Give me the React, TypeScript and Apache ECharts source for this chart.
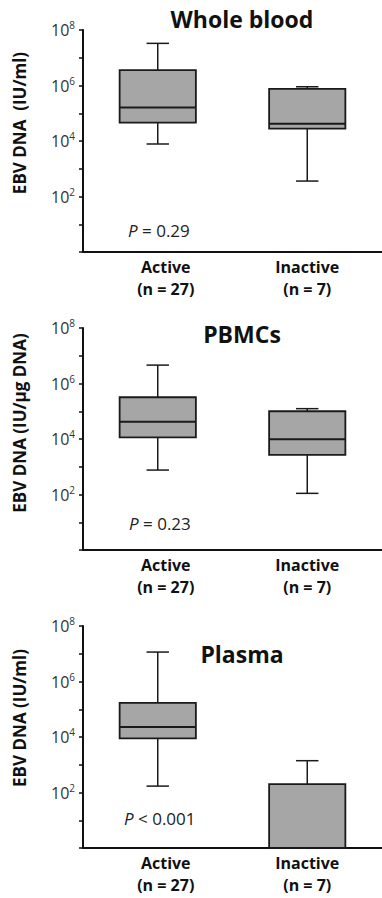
import React, { useEffect, useRef } from "react";
import * as echarts from "echarts";

const categories = ["Active\n(n = 27)", "Inactive\n(n = 7)"];
const panelTitles = ["Whole blood", "PBMCs", "Plasma"];
const yNames = ["EBV DNA  (IU/ml)", "EBV DNA (IU/\u00b5g DNA)", "EBV DNA (IU/ml)"];
const pSign = ["=", "=", "<"];
const pValues = ["0.29", "0.23", "0.001"];
// [min, Q1, median, Q3, max] per category
const wholeBlood = [
  [7.8e3, 4.6e4, 1.6e5, 3.6e6, 3.3e7],
  [3.6e2, 2.8e4, 4.2e4, 7.5e5, 9.0e5],
];
const pbmcs = [
  [7.6e2, 1.15e4, 4.2e4, 3.2e5, 4.6e6],
  [1.1e2, 2.7e3, 9.8e3, 1.0e5, 1.24e5],
];
const plasma = [
  [1.7e2, 8.9e3, 2.3e4, 1.7e5, 1.15e7],
  [1, 1, 1, 2.0e2, 1.4e3],
];
const panels = [wholeBlood, pbmcs, plasma];

const FONT = "'Open Sans', 'Noto Sans', sans-serif";
const gridTops = [30, 328, 626];
const gridH = 222;
const gridLeft = 83;
const titleY = [19, 334, 654];
const titleX = 242;
const pPos = [
  [128, 230],
  [129, 523],
  [124, 818],
];
const yNameY = [123, 423, 718];
const labelShift = [16, 0];

export default function App() {
  const ref = useRef<HTMLDivElement>(null);
  useEffect(() => {
    if (!ref.current) return;
    const chart = echarts.init(ref.current, null, { renderer: "svg" });

    const grids = gridTops.map((t) => ({
      left: gridLeft,
      top: t,
      right: 0,
      height: gridH,
      containLabel: false,
      outerBoundsMode: "none",
    }));

    const xAxes = panels.map((_, i) => ({
      type: "category",
      gridIndex: i,
      data: categories.map((c, k) => ({
        value: c,
        textStyle: { padding: [0, 0, 0, labelShift[k]] },
      })),
      axisLine: { show: true, lineStyle: { color: "#111", width: 2 } },
      axisTick: { show: false },
      axisLabel: {
        fontFamily: FONT,
        fontWeight: "bold",
        fontSize: 16,
        lineHeight: 22,
        color: "#111",
        margin: 4,
      },
      splitLine: { show: false },
    }));

    const yAxes = panels.map((_, i) => ({
      type: "log",
      logBase: 10,
      gridIndex: i,
      min: 1,
      max: 1e8,
      interval: 1,
      axisLine: { show: true, lineStyle: { color: "#111", width: 2 } },
      axisTick: { show: true, inside: false, length: 4, lineStyle: { color: "#111", width: 1.5 } },
      splitLine: { show: false },
      axisLabel: {
        margin: 8,
        fontFamily: FONT,
        color: "#333",
        fontSize: 16,
        formatter: (v: number) => {
          const e = Math.round(Math.log10(v));
          if (e <= 0 || e % 2 !== 0) return "";
          return "{b|10}{s|" + e + "}";
        },
        rich: {
          b: { fontFamily: FONT, fontSize: 16, color: "#333", lineHeight: 20 },
          s: { fontFamily: FONT, fontSize: 10, color: "#333", verticalAlign: "top", lineHeight: 12 },
        },
      },
    }));

    const series = panels.map((data, i) => ({
      type: "custom",
      xAxisIndex: i,
      yAxisIndex: i,
      clip: false,
      encode: { x: 0, y: [1, 2, 3, 4, 5] },
      data: data.map((d, k) => [k, ...d]),
      renderItem: (params: any, api: any) => {
        const x = api.value(0);
        const band = params.coordSys.width / categories.length;
        const boxW = band * 0.51;
        const capW = band * 0.15;
        const pMin = api.coord([x, api.value(1)]);
        const pQ1 = api.coord([x, api.value(2)]);
        const pMed = api.coord([x, api.value(3)]);
        const pQ3 = api.coord([x, api.value(4)]);
        const pMax = api.coord([x, api.value(5)]);
        const cx = pMed[0];
        const stroke = { stroke: "#1a1a1a", lineWidth: 1.5 };
        return {
          type: "group",
          children: [
            { type: "line", shape: { x1: cx, y1: pQ3[1], x2: cx, y2: pMax[1] }, style: stroke },
            { type: "line", shape: { x1: cx - capW / 2, y1: pMax[1], x2: cx + capW / 2, y2: pMax[1] }, style: stroke },
            { type: "line", shape: { x1: cx, y1: pQ1[1], x2: cx, y2: pMin[1] }, style: stroke },
            { type: "line", shape: { x1: cx - capW / 2, y1: pMin[1], x2: cx + capW / 2, y2: pMin[1] }, style: stroke },
            {
              type: "rect",
              shape: { x: cx - boxW / 2, y: pQ3[1], width: boxW, height: pQ1[1] - pQ3[1] },
              style: { fill: "#a6a6a6", stroke: "#1a1a1a", lineWidth: 1.8 },
            },
            {
              type: "line",
              shape: { x1: cx - boxW / 2, y1: pMed[1], x2: cx + boxW / 2, y2: pMed[1] },
              style: { stroke: "#1a1a1a", lineWidth: 2 },
            },
          ],
        };
      },
    }));

    const graphics: any[] = [];
    panelTitles.forEach((t, i) => {
      graphics.push({
        type: "text",
        x: titleX,
        y: titleY[i],
        style: {
          text: t,
          fontFamily: FONT,
          fontWeight: "bold",
          fontSize: 23,
          fill: "#111",
          textAlign: "center",
          textVerticalAlign: "middle",
        },
      });
      graphics.push({
        type: "text",
        x: 19,
        y: yNameY[i],
        rotation: Math.PI / 2,
        style: {
          text: yNames[i],
          fontFamily: FONT,
          fontWeight: "bold",
          fontSize: 17,
          fill: "#111",
          textAlign: "center",
          textVerticalAlign: "middle",
        },
      });
      graphics.push({
        type: "text",
        x: pPos[i][0],
        y: pPos[i][1],
        style: {
          text: "{i|P} " + pSign[i] + " " + pValues[i],
          fontFamily: FONT,
          fontSize: 17,
          fill: "#222",
          textAlign: "left",
          textVerticalAlign: "middle",
          rich: {
            i: { fontFamily: FONT, fontSize: 17, fontStyle: "italic", fill: "#222" },
          },
        },
      });
    });

    chart.setOption({
      animation: false,
      backgroundColor: "#ffffff",
      grid: grids,
      xAxis: xAxes,
      yAxis: yAxes,
      series,
      graphic: graphics,
    });
    return () => chart.dispose();
  }, []);
  return (
    <div
      ref={ref}
      style={{ position: "absolute", left: 0, top: 0, width: 382, height: 898 }}
    />
  );
}
